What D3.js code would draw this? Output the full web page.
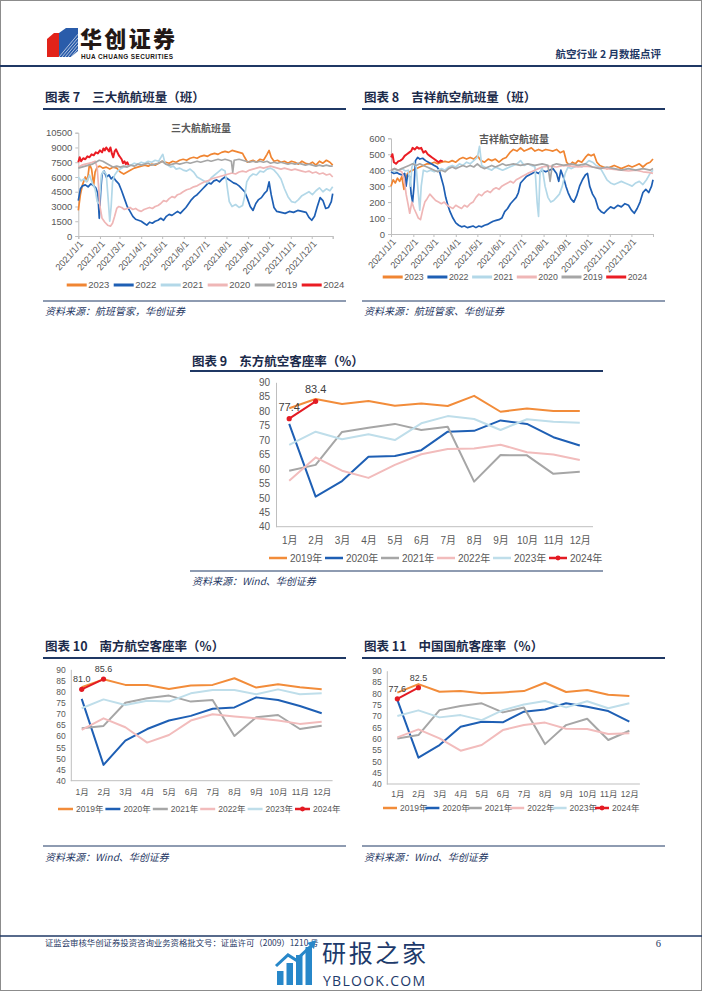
<!DOCTYPE html>
<html><head><meta charset="utf-8">
<script src="https://cdn.jsdelivr.net/npm/d3@7"></script>
<style>
html,body{margin:0;padding:0;background:#fff;}
svg{display:block;}
</style></head><body>
<svg id="page" width="702" height="991"></svg>
<script>
// ================= DATA =================
const monthLabels = ['1月','2月','3月','4月','5月','6月','7月','8月','9月','10月','11月','12月'];
const monthStartDays = [0,31,59,90,120,151,181,212,243,273,304,334];
const dateTickLabels = ['2021/1/1','2021/2/1','2021/3/1','2021/4/1','2021/5/1','2021/6/1','2021/7/1','2021/8/1','2021/9/1','2021/10/1','2021/11/1','2021/12/1'];
const dailyYears = ['2023','2022','2021','2020','2019','2024'];
const monthlyYears = ['2019年','2020年','2021年','2022年','2023年','2024年'];
const ticksBig = [0,1500,3000,4500,6000,7500,9000,10500];
const ticksJx = [0,100,200,300,400,500,600];
const ticksLoad = [40,45,50,55,60,65,70,75,80,85,90];

// 三大航航班量 [day of year, flights]
const big3_2023 = [[0,2600],[3,4200],[6,5200],[10,6000],[13,5600],[16,7300],[19,6800],[22,5200],[24,6500],[27,7000],[31,7100],[35,6900],[40,7000],[45,6800],[50,7000],[55,6900],[60,6500],[65,6300],[70,6500],[75,6700],[80,6900],[85,7000],[90,7100],[95,7200],[100,7100],[105,7300],[110,7200],[115,7400],[120,7600],[125,7500],[130,7400],[135,7600],[140,7500],[145,7700],[150,7800],[155,7700],[160,7900],[165,8000],[170,7900],[175,8100],[180,8200],[185,8100],[190,8300],[195,8400],[200,8300],[205,8500],[210,8600],[215,8500],[220,8700],[225,8600],[230,8500],[235,8400],[238,8000],[242,7500],[246,7600],[250,7700],[255,7500],[260,7800],[265,7700],[270,8300],[273,8700],[276,8000],[280,7600],[285,7700],[290,7500],[295,7600],[300,7400],[305,7600],[310,7500],[315,7300],[320,7600],[325,7400],[330,7300],[335,7500],[340,7200],[345,7600],[350,7400],[355,7700],[360,7500],[364,7200]];
const big3_2022 = [[0,3600],[3,4800],[6,5100],[10,5200],[14,5000],[18,5300],[22,5100],[25,4900],[28,4300],[30,1800],[32,4500],[34,6300],[37,6600],[40,6000],[44,6200],[47,5800],[50,6000],[54,5600],[58,5300],[62,4600],[66,3800],[70,3000],[74,2500],[78,2000],[82,1700],[86,1600],[90,1500],[94,1300],[98,1100],[102,1400],[106,1300],[110,1500],[114,1600],[118,1800],[122,1600],[126,2000],[130,2200],[134,2100],[138,2300],[142,2500],[146,2300],[150,2600],[154,2900],[158,3300],[162,3700],[166,4000],[170,4200],[174,4500],[178,4800],[182,5100],[186,5400],[190,5300],[194,5600],[198,5700],[202,5500],[206,5800],[210,6000],[214,5800],[218,5600],[222,5400],[226,5300],[230,5100],[234,4800],[238,4500],[242,3800],[246,3000],[250,2600],[254,3300],[258,3700],[262,3900],[266,4300],[270,4600],[273,5500],[276,4200],[280,2900],[284,2500],[290,2400],[296,2300],[302,2500],[308,2400],[314,2600],[320,2500],[326,2400],[330,1900],[334,1600],[338,2000],[342,3000],[346,3900],[350,3600],[354,2800],[358,2900],[362,3500],[364,4300]];
const big3_2021 = [[0,6000],[4,5600],[8,5800],[12,5500],[16,6200],[20,5400],[24,4800],[27,3500],[30,3300],[33,6200],[36,6600],[40,6300],[43,3500],[45,1500],[47,3000],[49,5500],[52,6200],[56,6600],[60,6800],[65,7000],[70,7100],[75,7200],[80,7400],[85,7300],[90,7500],[95,7400],[100,7600],[105,7500],[110,7700],[115,7600],[119,8100],[121,8300],[124,7400],[128,7200],[132,7000],[136,7100],[140,6800],[145,6900],[150,6700],[155,6600],[160,6800],[165,6500],[170,6000],[175,5800],[180,5600],[185,5400],[190,5900],[195,6200],[200,6500],[205,6800],[210,6600],[213,5000],[216,3500],[220,3000],[225,3200],[230,2900],[235,3100],[238,4000],[241,5500],[245,6000],[250,6300],[255,6200],[260,6600],[265,6500],[270,6800],[275,6900],[280,6700],[285,6300],[290,5800],[295,4800],[300,4000],[305,3500],[310,3400],[315,3700],[320,4100],[325,4300],[330,4500],[335,4200],[340,4600],[345,4900],[350,4500],[355,4800],[360,4600],[364,5000]];
const big3_2020 = [[0,7000],[5,7200],[10,7300],[15,7400],[20,7500],[24,7600],[27,7000],[29,5000],[31,3000],[34,1800],[38,1400],[42,1100],[46,1000],[49,1300],[52,2000],[55,2800],[58,3000],[62,2900],[66,2700],[70,2800],[74,2900],[78,2700],[82,2800],[86,2600],[90,2500],[94,2700],[98,2800],[102,2900],[106,2800],[110,3000],[114,3100],[118,3300],[122,3600],[126,3500],[130,3800],[134,4000],[138,3900],[142,4200],[146,4300],[150,4500],[155,4700],[160,4800],[165,5000],[170,5100],[175,5300],[180,5500],[185,5600],[190,5800],[195,5900],[200,6000],[205,6100],[210,6200],[215,6300],[220,6400],[225,6300],[230,6500],[235,6600],[240,6500],[245,6700],[250,6800],[255,6900],[260,7000],[265,6900],[270,7000],[275,7100],[280,7000],[285,6900],[290,6800],[295,6900],[300,6800],[305,6700],[310,6800],[315,6700],[320,6600],[325,6500],[330,6600],[335,6400],[340,6500],[345,6300],[350,6400],[355,6200],[360,6300],[364,6000]];
const big3_2019 = [[0,6900],[5,7000],[10,7100],[15,7200],[20,7300],[25,7500],[30,7700],[35,7600],[40,7400],[45,7200],[50,7000],[55,7100],[60,7000],[65,7100],[70,7000],[75,7200],[80,7100],[85,7300],[90,7200],[95,7300],[100,7400],[105,7200],[110,7300],[115,7400],[120,7600],[125,7300],[130,7200],[135,7300],[140,7400],[145,7300],[150,7400],[155,7500],[160,7400],[165,7500],[170,7600],[175,7500],[180,7600],[185,7700],[190,7600],[195,7700],[200,7800],[205,7700],[210,7800],[215,7700],[219,7600],[221,6500],[223,7700],[230,7800],[235,7700],[240,7600],[245,7500],[250,7600],[255,7500],[260,7600],[265,7500],[270,7600],[275,7400],[280,7500],[285,7400],[290,7500],[295,7400],[300,7300],[305,7400],[310,7300],[315,7400],[320,7300],[325,7200],[330,7300],[335,7200],[340,7100],[345,7200],[350,7100],[355,7200],[360,7100],[364,7100]];
const big3_2024 = [[0,7500],[2,8000],[4,7600],[7,7900],[10,7800],[13,8100],[16,8000],[19,8300],[22,8200],[25,8500],[28,8400],[31,8700],[34,8500],[36,8900],[38,8700],[40,9000],[42,8800],[44,8600],[46,9000],[48,8400],[50,8000],[52,8600],[54,8800],[56,8500],[58,8200],[60,8000],[62,7800],[64,7400],[66,7600],[68,7300],[70,7500],[72,7200]];

// 吉祥航空航班量 [day of year, flights]
const jx_2023 = [[0,300],[3,340],[6,320],[9,350],[12,330],[15,360],[18,280],[20,340],[23,380],[26,390],[30,400],[35,410],[40,420],[45,430],[50,440],[55,440],[60,450],[65,440],[70,450],[75,455],[80,450],[85,460],[90,450],[95,470],[100,480],[105,470],[110,480],[115,470],[120,490],[125,460],[130,450],[135,470],[140,460],[145,470],[150,450],[155,470],[160,480],[165,510],[170,530],[175,520],[180,540],[185,520],[190,530],[195,540],[200,520],[205,530],[210,520],[215,530],[220,525],[225,520],[230,530],[235,510],[240,520],[244,450],[248,430],[252,450],[256,440],[260,460],[265,450],[270,480],[274,500],[278,490],[282,500],[286,450],[290,430],[295,420],[300,410],[305,420],[310,430],[315,420],[320,410],[325,420],[330,430],[335,420],[340,430],[345,440],[350,420],[355,440],[360,450],[364,470]];
const jx_2022 = [[0,390],[4,380],[8,385],[12,375],[16,370],[19,380],[21,300],[23,370],[26,360],[28,250],[30,200],[32,300],[34,460],[37,480],[40,470],[44,475],[48,460],[52,450],[56,440],[60,430],[64,420],[67,400],[70,350],[73,300],[76,230],[79,180],[82,140],[86,100],[90,70],[94,55],[98,45],[102,50],[106,40],[110,45],[114,50],[118,40],[122,50],[126,45],[130,55],[134,60],[138,70],[142,80],[146,85],[150,90],[154,100],[158,140],[162,160],[166,190],[170,210],[174,230],[177,260],[180,320],[184,340],[188,360],[192,370],[196,380],[200,390],[205,380],[210,400],[215,390],[220,400],[225,410],[230,380],[233,330],[236,400],[240,350],[243,300],[246,260],[250,220],[254,200],[258,240],[262,300],[266,340],[270,370],[273,380],[276,300],[280,250],[284,220],[288,160],[292,140],[296,130],[300,150],[305,170],[310,160],[315,180],[320,170],[325,190],[330,180],[334,150],[338,130],[342,160],[346,200],[350,260],[354,280],[358,260],[362,300],[364,340]];
const jx_2021 = [[0,400],[5,390],[10,400],[15,410],[20,395],[24,400],[27,300],[29,420],[32,450],[35,420],[38,250],[40,150],[42,300],[45,400],[50,390],[55,400],[60,390],[65,400],[70,410],[75,400],[80,420],[85,430],[90,420],[95,440],[100,430],[105,450],[110,440],[115,460],[120,480],[123,550],[126,430],[130,420],[135,410],[140,400],[145,420],[150,410],[155,400],[160,410],[165,420],[170,430],[175,440],[180,460],[185,430],[190,440],[195,430],[200,420],[203,200],[205,110],[207,380],[210,420],[214,300],[218,230],[222,200],[226,210],[230,230],[234,250],[238,300],[242,380],[246,420],[250,410],[255,420],[260,430],[265,420],[270,440],[275,460],[280,450],[285,430],[290,420],[295,380],[300,340],[305,320],[310,310],[315,320],[320,330],[325,320],[330,310],[335,300],[340,320],[345,330],[350,310],[355,340],[360,380],[364,400]];
const jx_2020 = [[0,400],[5,410],[10,400],[15,390],[18,350],[21,250],[24,180],[26,130],[29,200],[32,160],[35,130],[38,100],[41,90],[44,150],[47,200],[50,220],[54,250],[58,230],[62,210],[66,200],[70,190],[74,200],[78,180],[82,170],[86,160],[90,180],[94,170],[98,160],[102,180],[106,170],[110,190],[114,200],[118,230],[122,250],[126,240],[130,260],[134,270],[138,260],[142,280],[146,290],[150,280],[154,300],[158,310],[162,320],[166,330],[170,320],[174,340],[178,350],[182,360],[186,370],[190,380],[195,390],[200,400],[205,410],[210,420],[220,425],[230,420],[240,430],[250,425],[260,420],[270,425],[280,420],[290,415],[300,410],[310,405],[320,400],[330,395],[340,400],[350,390],[360,385],[364,380]];
const jx_2019 = [[0,400],[5,410],[10,400],[15,410],[20,420],[25,430],[30,440],[35,430],[40,440],[45,430],[50,420],[55,410],[60,400],[65,390],[70,400],[75,390],[80,410],[85,420],[90,410],[95,420],[100,430],[105,420],[110,430],[115,420],[120,440],[125,420],[130,410],[135,420],[140,430],[145,420],[150,430],[155,440],[160,430],[170,440],[180,430],[190,440],[200,430],[210,440],[218,430],[221,330],[224,430],[230,440],[240,430],[250,440],[260,430],[270,440],[280,420],[290,410],[300,420],[310,410],[320,400],[330,410],[340,400],[350,410],[360,400],[364,410]];
const jx_2024 = [[0,480],[2,500],[4,450],[7,440],[10,455],[13,460],[16,470],[19,490],[22,500],[25,510],[28,520],[30,540],[33,530],[36,545],[39,535],[42,540],[45,510],[48,520],[51,500],[54,490],[57,480],[60,470],[63,460],[66,450],[69,460],[72,455]];

// 东方航空客座率 (%)
const ea_2019 = [81.0,84.2,82.5,83.5,81.9,82.7,81.8,85.3,79.8,80.9,80.1,80.1];
const ea_2020 = [75.6,50.4,55.8,64.2,64.5,66.5,72.9,73.2,76.8,75.6,71.0,68.1];
const ea_2021 = [59.4,61.4,72.8,74.3,75.6,73.5,74.6,55.6,64.8,64.7,58.3,59.0];
const ea_2022 = [55.9,64.0,59.4,56.9,61.4,65.1,66.9,67.1,68.4,65.8,65.0,63.1];
const ea_2023 = [68.3,72.9,70.3,72.0,70.0,75.8,78.3,77.3,73.5,77.2,76.3,76.0];
const ea_2024 = [77.4,83.4];
// 南方航空客座率 (%)
const cs_2019 = [82.0,85.5,83.0,83.0,81.2,82.7,83.0,86.0,81.8,83.3,81.9,81.0];
const cs_2020 = [76.7,47.1,58.0,63.2,67.0,69.1,72.3,72.9,77.4,76.2,73.5,70.3];
const cs_2021 = [63.5,64.6,75.0,77.0,78.2,75.5,76.2,60.1,68.5,69.5,63.2,64.7];
const cs_2022 = [62.8,68.0,64.0,57.1,60.5,67.0,69.8,68.8,68.0,67.0,65.5,66.5];
const cs_2023 = [72.5,76.5,74.0,75.9,75.5,79.2,80.7,80.7,78.8,81.0,78.8,79.2];
const cs_2024 = [81.0,85.6];
// 中国国航客座率 (%)
const ca_2019 = [80.3,84.1,80.7,81.0,80.0,80.4,81.0,84.7,80.6,81.5,79.4,78.8];
const ca_2020 = [77.1,51.6,57.2,65.3,67.5,67.2,71.9,72.9,75.6,74.1,72.2,67.5];
const ca_2021 = [60.1,61.6,72.6,74.4,75.6,71.6,73.8,57.6,66.0,68.8,59.4,63.5];
const ca_2022 = [60.6,64.1,60.1,54.7,57.2,63.8,66.0,67.1,64.4,64.3,62.1,62.4];
const ca_2023 = [70.0,72.5,69.4,70.4,68.2,72.6,75.1,76.6,73.8,76.5,73.4,75.6];
const ca_2024 = [77.6,82.5];

// ================= STYLE =================
const SANS = "'Liberation Sans', Arial, 'Noto Sans CJK SC', sans-serif";
const CJK = "'Noto Sans CJK SC', 'Liberation Sans', sans-serif";
const NAVY = '#1f3864';
const AXIS = '#bfbfbf';
const TXT = '#595959';
const dailyColors = {'2023':'#f08532','2022':'#1e5fb4','2021':'#b3d8e8','2020':'#efb6b6','2019':'#a6a6a6','2024':'#ea1d24'};
const monthlyColors = {'2019年':'#f28c3a','2020年':'#1e5fb4','2021年':'#a6a6a6','2022年':'#f2bcbc','2023年':'#bfdeea','2024年':'#e31b23'};

const svg = d3.select('#page');
svg.append('rect').attr('x',0.5).attr('y',0.5).attr('width',701).attr('height',990)
  .attr('fill','#fff').attr('stroke','#8c8c8c');

// ================= HEADER =================
const logo = svg.append('g');
logo.append('path').attr('d','M47,39 L54,33 L63,33 L63,57 L47,57 Z').attr('fill','#e2231a');
logo.append('path').attr('d','M59,33 L66,28 L78,28 L78,51 L71,57 L59,57 Z').attr('fill','#2a5caa');
for (let i=0;i<7;i++){
  logo.append('line').attr('x1',59+i*3).attr('y1',57).attr('x2',78).attr('y2',57-(19-i*3)*1.2)
    .attr('stroke','#fff').attr('stroke-width',0.8).attr('opacity',0.8);
}
svg.append('text').attr('x',80).attr('y',47).text('华创证券')
  .attr('font-family',CJK).attr('font-weight',900).attr('font-size',22).attr('fill','#231815')
  .attr('textLength',95);
svg.append('text').attr('x',81).attr('y',58.5).text('HUA CHUANG SECURITIES')
  .attr('font-family',SANS).attr('font-weight',700).attr('font-size',6.4).attr('fill','#231815')
  .attr('textLength',92);
svg.append('text').attr('x',661).attr('y',58).attr('text-anchor','end').text('航空行业 2 月数据点评')
  .attr('font-family',CJK).attr('font-weight',700).attr('font-size',10.5).attr('fill',NAVY);
svg.append('line').attr('x1',0).attr('x2',702).attr('y1',66).attr('y2',66).attr('stroke',NAVY).attr('stroke-width',2);

// ================= HELPERS =================
function titleBlock(x1,x2,ty,ly,label,text){
  const t = svg.append('text').attr('x',x1+2).attr('y',ty)
    .attr('font-family',CJK).attr('font-weight',700).attr('font-size',12.5).attr('fill','#1b2a4a');
  t.append('tspan').text(label);
  t.append('tspan').attr('dx',12).text(text);
  svg.append('line').attr('x1',x1).attr('x2',x2).attr('y1',ly).attr('y2',ly).attr('stroke',NAVY).attr('stroke-width',1.8);
}
function sourceBlock(x1,x2,ly,ty,text){
  svg.append('line').attr('x1',x1).attr('x2',x2).attr('y1',ly).attr('y2',ly).attr('stroke',NAVY).attr('stroke-width',1.2);
  svg.append('text').attr('x',x1+2).attr('y',ty).text(text)
    .attr('font-family',CJK).attr('font-style','italic').attr('font-size',10).attr('fill',NAVY);
}

function dailyChart(cfg){
  const g = svg.append('g');
  const x = d3.scaleLinear().domain([0,364]).range([cfg.x0,cfg.x1]);
  const y = d3.scaleLinear().domain([0,cfg.ymax]).range([cfg.yb,cfg.yt]);
  const ya = g.append('g').attr('transform',`translate(${cfg.x0},0)`)
    .call(d3.axisLeft(y).tickValues(cfg.yticks).tickFormat(d3.format('d')).tickSize(3).tickPadding(3));
  ya.selectAll('text').attr('font-family',SANS).attr('font-size',9.5).attr('fill',TXT);
  ya.selectAll('line,path').attr('stroke',AXIS);
  const xa = g.append('g').attr('transform',`translate(0,${cfg.yb})`)
    .call(d3.axisBottom(x).tickValues(monthStartDays.concat([364])).tickSize(3).tickFormat(''));
  xa.selectAll('line,path').attr('stroke',AXIS);
  g.selectAll('.dl').data(dateTickLabels).enter().append('text')
    .attr('transform',(d,i)=>`translate(${x(monthStartDays[i])+3},${cfg.yb+6}) rotate(-48)`)
    .attr('text-anchor','end').attr('dy','0.35em').text(d=>d)
    .attr('font-family',SANS).attr('font-size',9.3).attr('fill',TXT);
  const line = d3.line().x(d=>x(d[0])).y(d=>y(d[1]));
  dailyYears.forEach(k=>{
    g.append('path').datum(cfg.series[k]).attr('d',line).attr('fill','none')
      .attr('stroke',dailyColors[k]).attr('stroke-width',k==='2024'?2:1.7).attr('stroke-linejoin','round');
  });
  g.append('text').attr('x',cfg.titleX).attr('y',cfg.titleY).attr('text-anchor','middle').text(cfg.title)
    .attr('font-family',CJK).attr('font-weight',700).attr('font-size',10).attr('fill',TXT);
  dailyYears.forEach((k,i)=>{
    const lx = cfg.legX + i*cfg.legStep;
    g.append('line').attr('x1',lx).attr('x2',lx+20).attr('y1',cfg.legY).attr('y2',cfg.legY)
      .attr('stroke',dailyColors[k]).attr('stroke-width',3);
    g.append('text').attr('x',lx+21.5).attr('y',cfg.legY).attr('dy','0.35em').text(k)
      .attr('font-family',SANS).attr('font-size',cfg.legFs).attr('fill',TXT);
  });
}

function monthlyChart(cfg){
  const g = svg.append('g');
  const x = d3.scalePoint().domain(monthLabels).range([cfg.x0,cfg.x1]).padding(0.5);
  const y = d3.scaleLinear().domain([40,90]).range([cfg.yb,cfg.yt]);
  const ya = g.append('g').attr('transform',`translate(${cfg.x0},0)`)
    .call(d3.axisLeft(y).tickValues(ticksLoad).tickSize(0).tickPadding(cfg.fs*0.6));
  ya.selectAll('text').attr('font-family',SANS).attr('font-size',cfg.fs).attr('fill',TXT);
  ya.selectAll('line,path').attr('stroke',AXIS);
  const xa = g.append('g').attr('transform',`translate(0,${cfg.yb})`)
    .call(d3.axisBottom(x).tickSize(0).tickPadding(cfg.xpad));
  xa.selectAll('text').attr('font-family',SANS).attr('font-size',cfg.fs).attr('fill',TXT);
  xa.selectAll('path').attr('stroke',AXIS).attr('d',`M${cfg.x0},0H${cfg.x1}`);
  const line = d3.line().x((d,i)=>x(monthLabels[i])).y(d=>y(d));
  monthlyYears.forEach(k=>{
    g.append('path').datum(cfg.series[k]).attr('d',line).attr('fill','none')
      .attr('stroke',monthlyColors[k]).attr('stroke-width',2).attr('stroke-linejoin','round');
  });
  const last = cfg.series['2024年'];
  g.selectAll('.pt').data(last).enter().append('circle')
    .attr('cx',(d,i)=>x(monthLabels[i])).attr('cy',d=>y(d)).attr('r',2.6).attr('fill',monthlyColors['2024年']);
  g.selectAll('.lb').data(last).enter().append('text')
    .attr('x',(d,i)=>x(monthLabels[i])).attr('y',d=>y(d)-cfg.lblOff).attr('text-anchor','middle')
    .text(d=>d.toFixed(1)).attr('font-family',SANS).attr('font-size',cfg.lblFs).attr('fill','#404040');
  monthlyYears.forEach((k,i)=>{
    const lx = cfg.legX + i*cfg.legStep;
    g.append('line').attr('x1',lx).attr('x2',lx+cfg.legLen).attr('y1',cfg.legY).attr('y2',cfg.legY)
      .attr('stroke',monthlyColors[k]).attr('stroke-width',2.5);
    if (k==='2024年') g.append('circle').attr('cx',lx+cfg.legLen/2).attr('cy',cfg.legY).attr('r',2.4).attr('fill',monthlyColors[k]);
    g.append('text').attr('x',lx+cfg.legLen+3).attr('y',cfg.legY).attr('dy','0.35em').text(k)
      .attr('font-family',SANS).attr('font-size',cfg.fs).attr('fill',TXT);
  });
}

// ================= CHART 7 / 8 =================
titleBlock(43,346,102,109,'图表 7','三大航航班量（班）');
dailyChart({x0:78.3,x1:332.7,yb:236,yt:132.7,ymax:10500,yticks:ticksBig,title:'三大航航班量',titleX:201,titleY:132,
  legX:66.7,legStep:47,legY:285,legFs:9.5,
  series:{'2023':big3_2023,'2022':big3_2022,'2021':big3_2021,'2020':big3_2020,'2019':big3_2019,'2024':big3_2024}});
sourceBlock(43,346,301,315,'资料来源：航班管家，华创证券');

titleBlock(362,665,102,109,'图表 8','吉祥航空航班量（班）');
dailyChart({x0:391,x1:653,yb:234,yt:138.3,ymax:600,yticks:ticksJx,title:'吉祥航空航班量',titleX:514,titleY:143,
  legX:382.7,legStep:44.7,legY:277,legFs:8.8,
  series:{'2023':jx_2023,'2022':jx_2022,'2021':jx_2021,'2020':jx_2020,'2019':jx_2019,'2024':jx_2024}});
sourceBlock(362,665,301,315,'资料来源：航班管家、华创证券');

// ================= CHART 9 =================
titleBlock(190,603,366,371,'图表 9','东方航空客座率（%）');
monthlyChart({x0:276,x1:593,yb:526.7,yt:382.3,fs:10,xpad:10,lblFs:11,lblOff:8,legX:269,legStep:56,legLen:18,legY:558,
  series:{'2019年':ea_2019,'2020年':ea_2020,'2021年':ea_2021,'2022年':ea_2022,'2023年':ea_2023,'2024年':ea_2024}});
sourceBlock(190,603,571,585,'资料来源：Wind、华创证券');

// ================= CHART 10 / 11 =================
titleBlock(43,346,651,658,'图表 10','南方航空客座率（%）');
monthlyChart({x0:70.8,x1:332.6,yb:780.7,yt:669.3,fs:8.5,xpad:8,lblFs:9,lblOff:7,legX:58,legStep:47.4,legLen:15,legY:809,
  series:{'2019年':cs_2019,'2020年':cs_2020,'2021年':cs_2021,'2022年':cs_2022,'2023年':cs_2023,'2024年':cs_2024}});
sourceBlock(43,346,846,861,'资料来源：Wind、华创证券');

titleBlock(362,665,651,658,'图表 11','中国国航客座率（%）');
monthlyChart({x0:386.8,x1:639.9,yb:784,yt:670.7,fs:8.5,xpad:7,lblFs:9,lblOff:7,legX:383,legStep:42.4,legLen:14,legY:808,
  series:{'2019年':ca_2019,'2020年':ca_2020,'2021年':ca_2021,'2022年':ca_2022,'2023年':ca_2023,'2024年':ca_2024}});
sourceBlock(362,665,846,861,'资料来源：Wind、华创证券');

// ================= FOOTER =================
svg.append('line').attr('x1',0).attr('x2',702).attr('y1',936).attr('y2',936).attr('stroke',NAVY).attr('stroke-width',1.5);
svg.append('text').attr('x',45).attr('y',946).text('证监会审核华创证券投资咨询业务资格批文号：证监许可（2009）1210 号')
  .attr('font-family',CJK).attr('font-size',8.4).attr('fill',NAVY);
svg.append('text').attr('x',661).attr('y',947).attr('text-anchor','end').text('6')
  .attr('font-family',"'Liberation Serif', serif").attr('font-size',10.5).attr('fill',NAVY);
// watermark
const wm = svg.append('g');
const barH = [14,22,30,38];
barH.forEach((h,i)=>{
  wm.append('rect').attr('x',277+i*9.5).attr('y',985-h).attr('width',6.5).attr('height',h).attr('fill','#2787c9');
});
wm.append('path').attr('d','M276,966 L288,955 L296,960 L313,944').attr('fill','none').attr('stroke','#2787c9').attr('stroke-width',3);
wm.append('path').attr('d','M307,943 L316,940 L314,949 Z').attr('fill','#2787c9');
wm.append('text').attr('x',322).attr('y',962).text('研报之家')
  .attr('font-family',CJK).attr('font-size',24).attr('fill','#1d3a6b').attr('textLength',104);
wm.append('text').attr('x',323).attr('y',986).text('YBLOOK.COM')
  .attr('font-family',"'Open Sans', 'Liberation Sans', sans-serif").attr('font-size',14).attr('fill','#1d3a6b')
  .attr('textLength',102);
</script></body></html>
